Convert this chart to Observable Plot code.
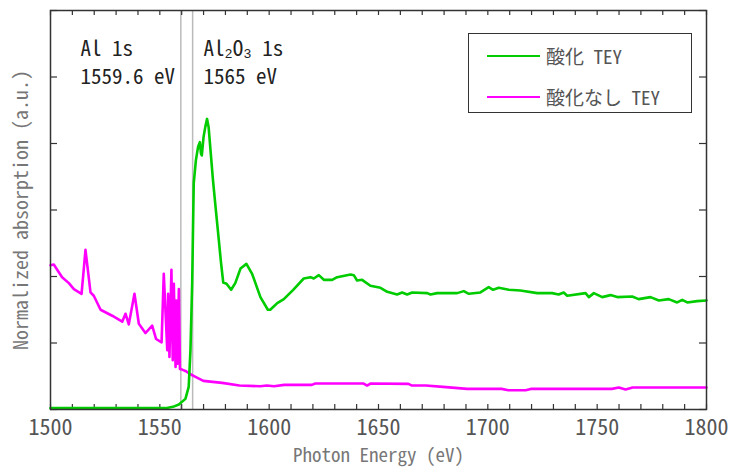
<!DOCTYPE html>
<html><head><meta charset="utf-8">
<script src="https://cdn.jsdelivr.net/npm/d3@7"></script>
<script src="https://cdn.jsdelivr.net/npm/@observablehq/plot@0.6"></script>
<style>
body{margin:0;background:#fff;}
#wrap{position:relative;width:730px;height:470px;font-family:"Noto Sans Mono CJK JP","Liberation Sans Narrow","Noto Sans CJK JP",sans-serif;}
#legend{position:absolute;left:468px;top:33px;width:222px;height:78px;border:1.5px solid #333;background:#fff;}
.lg{position:absolute;left:18px;display:flex;align-items:center;font-size:19px;color:#555;}
.lg span.sw{display:inline-block;width:53px;height:0;border-top:2.5px solid;margin-right:6px;}
</style></head><body>
<div id="wrap"></div>
<script>
const energyOx = [1500,1552.6,1556,1558.7,1561.7,1563.2,1564,1564.8,1565.5,1566.5,1567.5,1568.3,1568.8,1569.2,1570,1570.8,1571.6,1572.3,1573.2,1574.3,1575.5,1577,1578,1579,1580.5,1582.6,1584.5,1586.9,1589.6,1592.2,1596,1599.4,1600.5,1603.7,1606.7,1611,1615.8,1618.9,1620.4,1622.7,1625,1628.8,1631.1,1637.2,1638.7,1640.2,1642.5,1646.3,1650.9,1654,1658.5,1660.8,1663.1,1665.4,1672.3,1673.8,1676.8,1686,1689,1691.3,1696.6,1700.4,1702.4,1705,1709.6,1714.9,1722.6,1729.4,1732.4,1734.7,1736.3,1744.7,1746.2,1748.5,1752.3,1756.1,1759.2,1766,1769,1774.4,1778.2,1782.7,1786.6,1788.9,1791.2,1795.7,1800];
const oxTEY = [0.02,0.02,0.04,0.075,0.16,0.34,0.89,1.9,3.4,3.75,3.95,4.02,3.85,3.82,4.1,4.25,4.37,4.25,3.89,3.45,3.04,2.54,2.2,1.91,1.89,1.80,1.90,2.12,2.19,2.04,1.69,1.50,1.50,1.60,1.66,1.80,1.97,1.99,1.97,2.02,1.95,1.95,1.99,2.03,2.02,1.94,1.95,1.86,1.83,1.77,1.73,1.76,1.73,1.76,1.75,1.73,1.75,1.75,1.78,1.74,1.76,1.84,1.80,1.83,1.80,1.79,1.75,1.75,1.73,1.76,1.71,1.75,1.69,1.75,1.69,1.72,1.69,1.70,1.66,1.69,1.64,1.66,1.61,1.65,1.61,1.63,1.64];
const energyRaw = [1500,1501.5,1505.3,1508.4,1510.7,1514.2,1516,1518.3,1519.8,1522.9,1528.2,1532.8,1534.3,1535.8,1538.4,1540.4,1543.4,1546.5,1548.3,1550.8,1551.8,1553.4,1553.8,1554.4,1555.3,1555.9,1556.4,1557.2,1557.6,1558.1,1558.7,1559.2,1560.2,1561.7,1564,1566.3,1569.9,1578.5,1586.4,1595.9,1599,1602.2,1606.9,1619.5,1621.1,1643.2,1644.8,1646.3,1663.7,1665.3,1671.6,1679.5,1690.5,1706.3,1709.4,1717.3,1719.6,1756.7,1759.9,1763,1766.2,1800];
const rawTEY = [2.17,2.18,1.99,1.90,1.81,1.74,2.40,1.76,1.71,1.50,1.41,1.32,1.44,1.28,1.74,1.29,1.15,1.26,1.06,1.01,2.04,0.89,1.74,0.79,2.10,0.74,1.89,0.64,1.64,0.69,1.81,0.61,0.60,0.58,0.53,0.49,0.43,0.40,0.36,0.35,0.36,0.35,0.37,0.37,0.39,0.39,0.36,0.39,0.385,0.36,0.36,0.34,0.31,0.31,0.29,0.29,0.31,0.31,0.33,0.30,0.33,0.33];
const seriesNames = ["酸化 TEY", "酸化なし TEY"];
const seriesColors = ["#00cc00", "#ff00ff"];
const edgeLines = [1559.6, 1565];
const annX = [1513.7, 1570];
const annLines1 = ["Al 1s", "Al₂O₃ 1s"];
const annLines2 = ["1559.6 eV", "1565 eV"];
const xLabels = [1500,1550,1600,1650,1700,1750,1800];
const xMinor = d3.range(1500, 1801, 10);
const yTicks = [0,1,2,3,4,5,6];

const ox = energyOx.map((e,i)=>({e, v: oxTEY[i]}));
const raw = energyRaw.map((e,i)=>({e, v: rawTEY[i]}));
const ann = annX.map((x,i)=>({x, a: annLines1[i], b: annLines2[i]}));

const W = 730, H = 470, mL = 50, mR = 24, mT = 10, mB = 61;
const iw = W - mL - mR, ih = H - mT - mB;
const font = '"Noto Sans Mono CJK JP","Liberation Sans Narrow","Noto Sans CJK JP",sans-serif';

const chart = Plot.plot({
  width: W, height: H,
  marginLeft: mL, marginRight: mR, marginTop: mT, marginBottom: mB,
  x: {domain: [1500, 1800]},
  y: {domain: [0, 6]},
  style: {fontFamily: font, color: "#555", background: "#fff"},
  marks: [
    Plot.ruleX(edgeLines, {stroke: "#bbb", strokeWidth: 1.5}),
    Plot.tickX(xMinor, {x: d=>d, insetTop: ih - 5, stroke: "#333", strokeWidth: 1.2}),
    Plot.tickX(xMinor, {x: d=>d, insetBottom: ih - 5, stroke: "#333", strokeWidth: 1.2}),
    Plot.tickY(yTicks, {y: d=>d, insetRight: iw - 7, stroke: "#333", strokeWidth: 1.2}),
    Plot.tickY(yTicks, {y: d=>d, insetLeft: iw - 7, stroke: "#333", strokeWidth: 1.2}),
    Plot.line(raw, {x: "e", y: "v", stroke: seriesColors[1], strokeWidth: 2.6}),
    Plot.line(ox, {x: "e", y: "v", stroke: seriesColors[0], strokeWidth: 2.6}),
    Plot.frame({stroke: "#333", strokeWidth: 1.5}),
    Plot.axisX({ticks: xLabels, tickSize: 0, tickPadding: 10, fontSize: 22, label: null, tickFormat: d=>String(d), fill: "#555"}),
    Plot.axisY({ticks: [], label: null}),
    Plot.text(["Photon Energy (eV)"], {frameAnchor: "bottom", dy: 52, fontSize: 19, fill: "#777"}),
    Plot.text(["Normalized absorption (a.u.)"], {frameAnchor: "left", textAnchor: "middle", rotate: -90, dx: -29, fontSize: 20, fill: "#777"}),
    Plot.text(ann, {x: "x", text: "a", frameAnchor: "top", dy: 31, textAnchor: "start", fontSize: 21, fill: "#222"}),
    Plot.text(ann, {x: "x", text: "b", frameAnchor: "top", dy: 59, textAnchor: "start", fontSize: 21, fill: "#222"})
  ]
});
const wrap = document.getElementById("wrap");
wrap.appendChild(chart);
const lg = document.createElement("div");
lg.id = "legend";
seriesNames.forEach((n,i)=>{
  const row = document.createElement("div");
  row.className = "lg";
  row.style.top = (i === 0 ? 8 : 49) + "px";
  const sw = document.createElement("span");
  sw.className = "sw"; sw.style.borderColor = seriesColors[i];
  row.appendChild(sw);
  row.appendChild(document.createTextNode(n));
  lg.appendChild(row);
});
wrap.appendChild(lg);
</script>
</body></html>
